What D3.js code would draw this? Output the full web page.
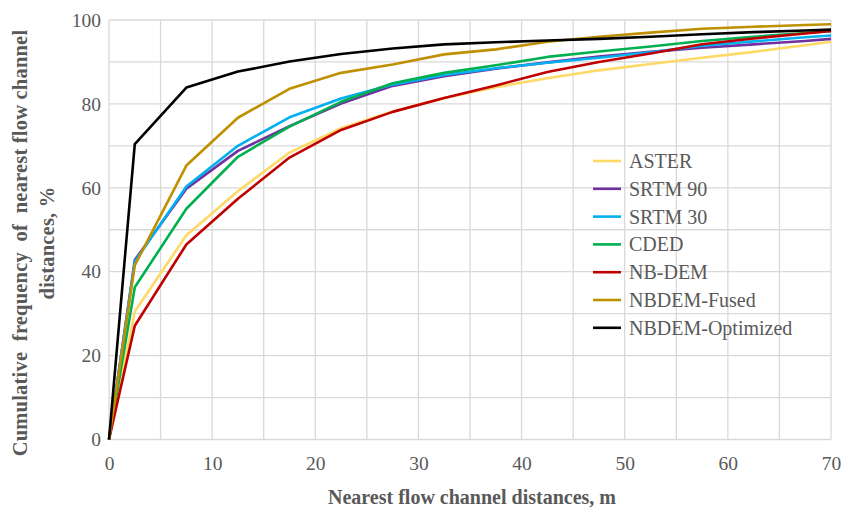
<!DOCTYPE html>
<html>
<head>
<meta charset="utf-8">
<script src="https://cdn.jsdelivr.net/npm/d3@7"></script>
<style>
  body { margin: 0; background: #fff; }
  text { font-family: "Liberation Serif", "Times New Roman", Times, serif; }
</style>
</head>
<body>
<div id="chart"></div>
<script>
// distances (m) where each curve has a point
const distances = [0, 2.5, 7.5, 12.5, 17.5, 22.5, 27.5, 32.5, 37.5, 42.5, 47.5, 52.5, 57.5, 62.5, 67.5, 70];

const seriesNames = ["ASTER", "SRTM 90", "SRTM 30", "CDED", "NB-DEM", "NBDEM-Fused", "NBDEM-Optimized"];
const seriesColors = ["#FFD966", "#7030A0", "#00B0F0", "#00B050", "#C00000", "#BF9000", "#000000"];

const aster     = [0, 30.5, 48.7, 59.2, 68.4, 74.2, 78.2, 81.4, 84.0, 86.1, 88.0, 89.5, 91.0, 92.4, 94.0, 94.8];
const srtm90    = [0, 42.8, 59.8, 68.8, 74.7, 80.1, 84.3, 86.6, 88.4, 89.9, 91.3, 92.4, 93.4, 94.2, 95.0, 95.5];
const srtm30    = [0, 42.4, 60.3, 70.0, 76.8, 81.3, 84.6, 86.9, 88.5, 89.8, 91.0, 92.3, 93.9, 94.9, 95.9, 96.3];
const cded      = [0, 36.3, 55.0, 67.4, 74.6, 80.5, 84.9, 87.4, 89.2, 91.2, 92.5, 93.7, 95.0, 96.0, 96.9, 97.3];
const nbdem     = [0, 27.1, 46.5, 57.4, 67.2, 73.8, 78.1, 81.4, 84.4, 87.6, 90.0, 92.0, 94.2, 95.6, 96.8, 97.4];
const fused     = [0, 41.5, 65.3, 76.7, 83.6, 87.4, 89.4, 91.8, 93.0, 94.8, 96.0, 97.0, 97.9, 98.4, 98.8, 99.0];
const optimized = [0, 70.4, 83.9, 87.7, 90.1, 91.9, 93.2, 94.2, 94.7, 95.1, 95.5, 96.0, 96.6, 97.1, 97.5, 97.7];

const allSeries = [aster, srtm90, srtm30, cded, nbdem, fused, optimized];

const xTicks = [0, 10, 20, 30, 40, 50, 60, 70];
const yTicks = [0, 20, 40, 60, 80, 100];

const width = 843, height = 508;
const margin = {top: 20, right: 12, bottom: 68.5, left: 109};
const serif = '"Liberation Serif", "Times New Roman", Times, serif';

const svg = d3.select("#chart").append("svg")
  .attr("width", width)
  .attr("height", height);

const x = d3.scaleLinear().domain([0, 70]).range([margin.left, width - margin.right]);
const y = d3.scaleLinear().domain([0, 100]).range([height - margin.bottom, margin.top]);

// grid
const grid = svg.append("g").attr("stroke", "#d9d9d9").attr("stroke-width", 1.3);
grid.selectAll(".vg").data(d3.range(0, 71, 5)).join("line")
  .attr("x1", d => x(d)).attr("x2", d => x(d))
  .attr("y1", y(0)).attr("y2", y(100));
grid.selectAll(".hg").data(d3.range(0, 101, 10)).join("line")
  .attr("x1", x(0)).attr("x2", x(70))
  .attr("y1", d => y(d)).attr("y2", d => y(d));

// axes (labels only, Excel style)
const xAxis = svg.append("g")
  .attr("transform", `translate(0,${y(0)})`)
  .call(d3.axisBottom(x).tickValues(xTicks).tickSize(0).tickPadding(17));
const yAxis = svg.append("g")
  .attr("transform", `translate(${x(0)},0)`)
  .call(d3.axisLeft(y).tickValues(yTicks).tickSize(0).tickPadding(8));
[xAxis, yAxis].forEach(a => {
  a.attr("font-family", serif);
  a.select(".domain").remove();
  a.selectAll("text")
    .style("font-family", serif)
    .style("font-size", "19.5px")
    .attr("fill", "#595959");
});

// lines
const line = d3.line()
  .x((d, i) => x(distances[i]))
  .y(d => y(d));

svg.append("g").selectAll("path").data(allSeries).join("path")
  .attr("d", d => line(d))
  .attr("fill", "none")
  .attr("stroke", (d, i) => seriesColors[i])
  .attr("stroke-width", 2.6)
  .attr("stroke-linejoin", "round");

// legend
const legend = svg.append("g").attr("transform", "translate(593,161)");
const item = legend.selectAll("g").data(seriesNames).join("g")
  .attr("transform", (d, i) => `translate(0,${i * 27.8})`);
item.append("line")
  .attr("x1", 0).attr("x2", 28)
  .attr("stroke", (d, i) => seriesColors[i])
  .attr("stroke-width", 2.6);
item.append("text")
  .attr("x", 36).attr("dy", "0.35em")
  .style("font-family", serif)
  .style("font-size", "20px")
  .attr("fill", "#595959")
  .text(d => d);

// axis titles
svg.append("text")
  .attr("x", 472).attr("y", 504)
  .attr("text-anchor", "middle")
  .style("font-family", serif)
  .style("font-size", "20px").style("font-weight", "bold")
  .attr("fill", "#595959")
  .text("Nearest flow channel distances, m");

const yt = svg.append("text")
  .attr("transform", "translate(0,243) rotate(-90)")
  .attr("text-anchor", "middle")
  .style("font-family", serif)
  .style("font-size", "20.5px").style("font-weight", "bold")
  .style("white-space", "pre")
  .style("letter-spacing", "0.2px")
  .attr("fill", "#595959");
yt.append("tspan").attr("x", 0).attr("y", 27).text("Cumulative  frequency  of  nearest flow channel");
yt.append("tspan").attr("x", 0).attr("y", 54).text("distances, %");
</script>
</body>
</html>
